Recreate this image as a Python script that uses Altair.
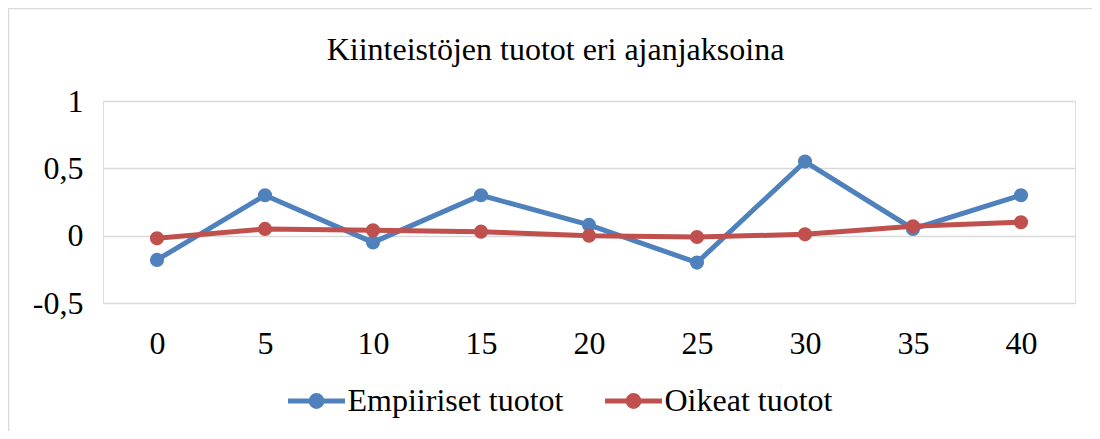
import altair as alt
import pandas as pd

periods = [0, 5, 10, 15, 20, 25, 30, 35, 40]
series_names = ["Empiiriset tuotot", "Oikeat tuotot"]
empiiriset = [-0.18, 0.30, -0.05, 0.30, 0.08, -0.20, 0.55, 0.05, 0.30]
oikeat = [-0.02, 0.05, 0.04, 0.03, 0.00, -0.01, 0.01, 0.07, 0.10]
y_ticks = [-0.5, 0, 0.5, 1]
colors = ["#4F81BD", "#C0504D"]
title_text = "Kiinteistöjen tuotot eri ajanjaksoina"

rows = []
for name, vals in zip(series_names, [empiiriset, oikeat]):
    for i, (p, v) in enumerate(zip(periods, vals)):
        rows.append({"period": str(p), "idx": i, "value": v, "series": name})
df = pd.DataFrame(rows)

FONT = "Liberation Serif, Times New Roman, serif"
FS = 32
legend_symbol = ("M-1,0 L1,0 M-0.19,0 A0.19,0.19 0 1,1 0.19,0 "
                 "A0.19,0.19 0 1,1 -0.19,0")

lines = alt.Chart(df).mark_line(
    strokeWidth=5,
    point=alt.OverlayMarkDef(filled=True, size=200, opacity=1),
).encode(
    x=alt.X("period:N", sort=[str(p) for p in periods],
            scale=alt.Scale(type="point", padding=0.5),
            axis=alt.Axis(title=None, labelAngle=0, ticks=False, domain=False,
                          grid=False, labelPadding=50,
                          labelBaseline="alphabetic")),
    y=alt.Y("value:Q", scale=alt.Scale(domain=[-0.5, 1], nice=False, zero=False),
            axis=alt.Axis(title=None, values=y_ticks, ticks=False, domain=False,
                          grid=True, gridColor="#d9d9d9", gridWidth=1.5,
                          labelPadding=20,
                          labelExpr="replace('' + datum.value, '.', ',')")),
    color=alt.Color("series:N",
                    scale=alt.Scale(domain=series_names, range=colors),
                    legend=alt.Legend(title=None, orient="none",
                                      direction="horizontal",
                                      legendX=182.5, legendY=269,
                                      symbolType=legend_symbol, symbolSize=3249,
                                      symbolStrokeWidth=5, labelOffset=0,
                                      columnPadding=31, labelLimit=500)),
    order=alt.Order("idx:Q"),
)

frame = alt.Chart(alt.Data(values=[{}])).mark_rect(
    fill="transparent", stroke="#d9d9d9", strokeWidth=1.5, clip=False
).encode(
    x=alt.value(-94.5), x2=alt.value(1200), y=alt.value(-92.5), y2=alt.value(600)
)

title = alt.Chart(alt.Data(values=[{"t": title_text}])).mark_text(
    font=FONT, fontSize=FS, color="#000", align="center", baseline="alphabetic"
).encode(
    text="t:N", x=alt.value(452.5), y=alt.value(-41)
)

chart = alt.layer(frame, lines, title).properties(
    width=972,
    height=202,
    autosize=alt.AutoSizeParams(type="none"),
    padding={"left": 95, "top": 93, "right": 17, "bottom": 128},
).configure_view(stroke=None).configure(
    background="white", font=FONT
).configure_axis(
    labelFont=FONT, labelFontSize=FS, labelColor="#000"
).configure_legend(
    labelFont=FONT, labelFontSize=FS, labelColor="#000"
)

chart.save("out.html", embed_options={"renderer": "svg", "actions": False})
